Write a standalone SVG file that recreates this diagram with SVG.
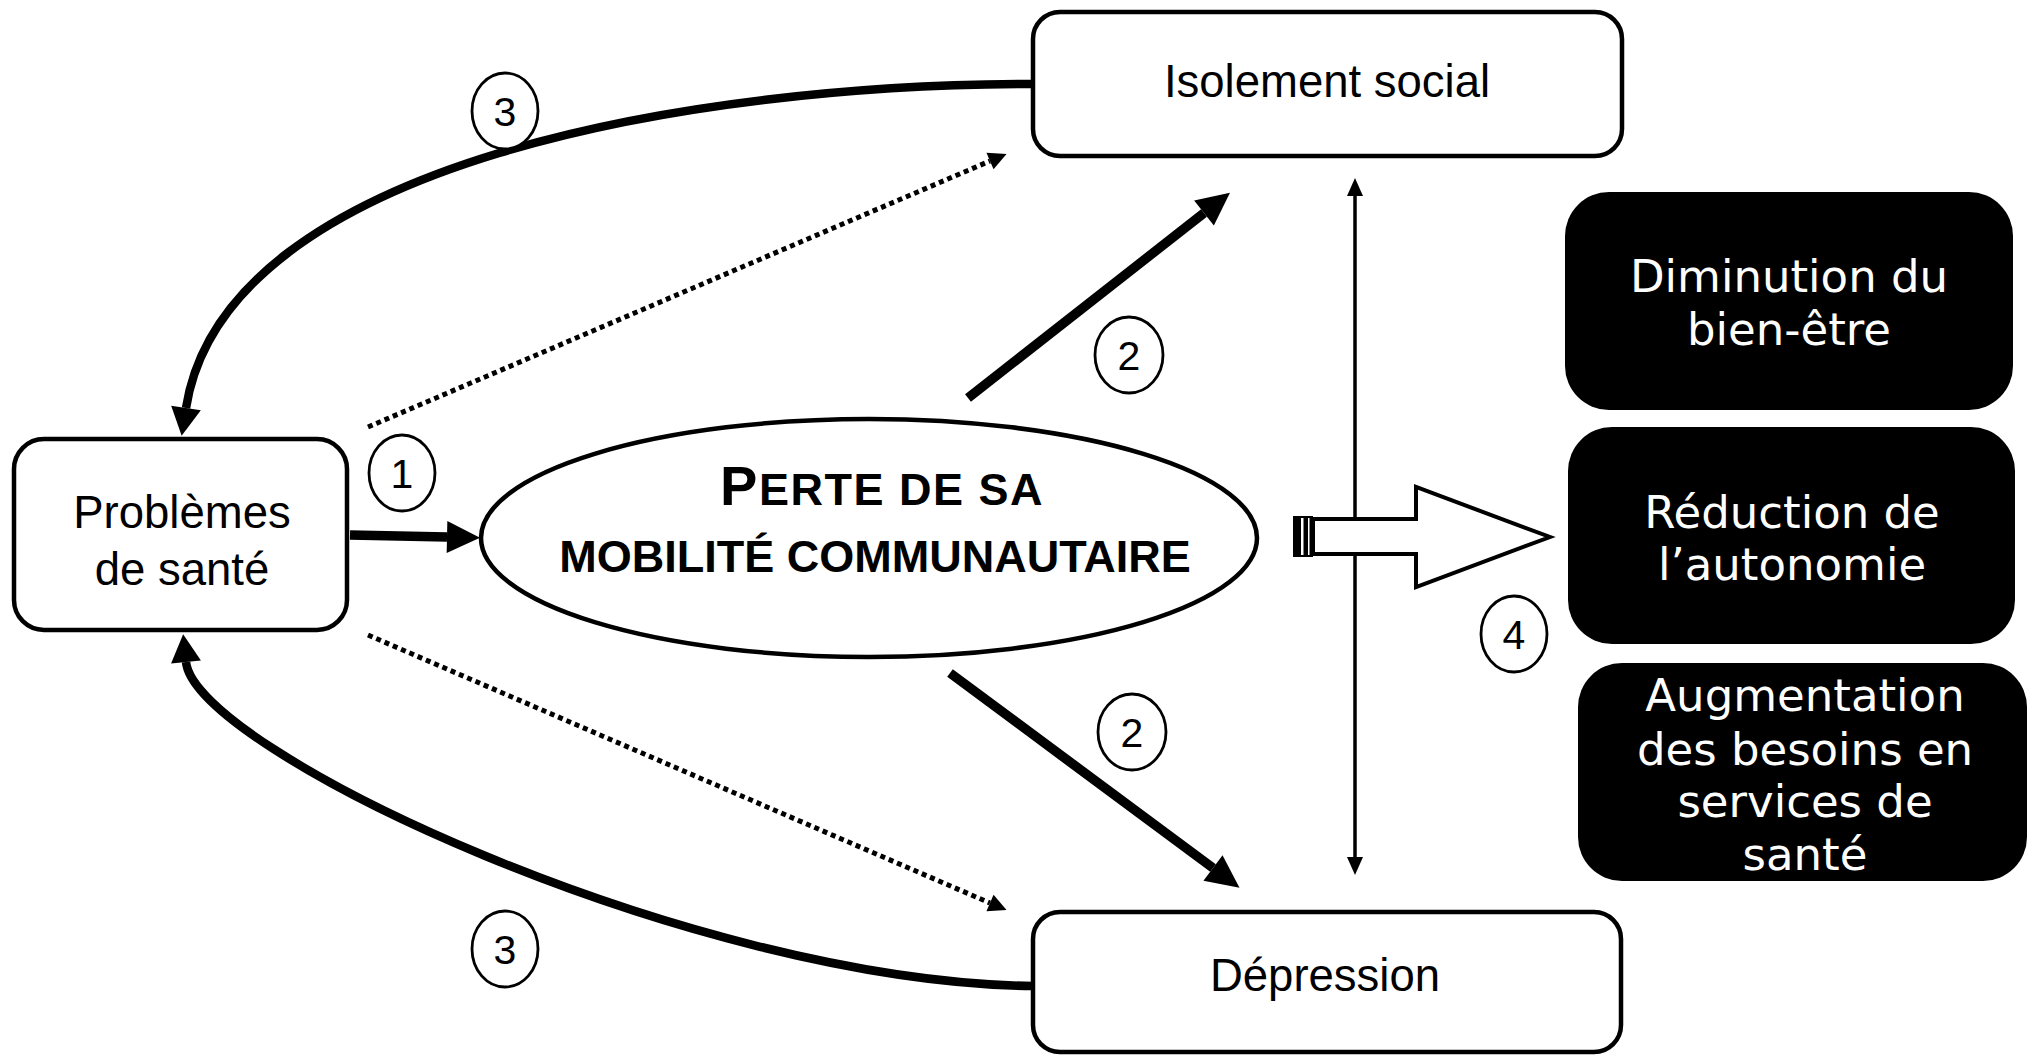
<svg xmlns="http://www.w3.org/2000/svg" width="2033" height="1057" viewBox="0 0 2033 1057">
  <defs>
    <style>
      .box{fill:#fff;stroke:#000;stroke-width:4.5}
      .dark{fill:#000}
      .lbl{font-family:"Liberation Sans",Arial,sans-serif;font-size:45.5px;fill:#000;text-anchor:middle}
      .wt{font-family:"DejaVu Sans",Verdana,sans-serif;font-size:45px;fill:#fff;text-anchor:middle}
      .core{font-family:"Liberation Sans",Arial,sans-serif;font-weight:bold;fill:#000;text-anchor:middle}
      .ring{fill:#fff;stroke:#000;stroke-width:2.8}
      .num{font-family:"Liberation Sans",Arial,sans-serif;font-size:41px;fill:#000;text-anchor:middle}
      .thick{fill:none;stroke:#000;stroke-width:9.5}
      .curve{fill:none;stroke:#000;stroke-width:8.5}
      .dot{fill:none;stroke:#000;stroke-width:5;stroke-dasharray:5 4}
      .thin{fill:none;stroke:#000;stroke-width:3.5}
    </style>
    <marker id="head-big" markerUnits="userSpaceOnUse" orient="auto" refX="0" refY="0" markerWidth="40" markerHeight="40" overflow="visible">
      <path d="M0,-16 L33,0 L0,16 Z" fill="#000"/>
    </marker>
    <marker id="head-curve" markerUnits="userSpaceOnUse" orient="auto" refX="0" refY="0" markerWidth="40" markerHeight="40" overflow="visible">
      <path d="M0,-15 L28,0 L0,15 Z" fill="#000"/>
    </marker>
    <marker id="head-dot" markerUnits="userSpaceOnUse" orient="auto" refX="0" refY="0" markerWidth="30" markerHeight="30" overflow="visible">
      <path d="M0,-9 L18,0 L0,9 Z" fill="#000"/>
    </marker>
    <marker id="head-thin" markerUnits="userSpaceOnUse" orient="auto-start-reverse" refX="0" refY="0" markerWidth="30" markerHeight="30" overflow="visible">
      <path d="M0,-8 L18,0 L0,8 Z" fill="#000"/>
    </marker>
  </defs>

  <rect width="2033" height="1057" fill="#fff"/>

  <!-- connectors -->
  <g id="connectors">
    <!-- 1: health problems -> loss of mobility -->
    <path class="thick" d="M350,535 L447,537" marker-end="url(#head-big)"/>
    <!-- 2: loss of mobility -> isolation / depression -->
    <path class="thick" d="M968,398 L1204,213" marker-end="url(#head-big)"/>
    <path class="thick" d="M950,673 L1213,868" marker-end="url(#head-big)"/>
    <!-- 3: feedback curves back to health problems -->
    <path class="curve" d="M1033,84 C700,84 225,160 186,408" marker-end="url(#head-curve)"/>
    <path class="curve" d="M1033,986 C690,982 195,750 186,662" marker-end="url(#head-curve)"/>
    <!-- dotted direct links -->
    <path class="dot" d="M368,427 L990,161" marker-end="url(#head-dot)"/>
    <path class="dot" d="M368,635 L990,903" marker-end="url(#head-dot)"/>
    <!-- isolation <-> depression -->
    <path class="thin" d="M1355,196 L1355,857" marker-start="url(#head-thin)" marker-end="url(#head-thin)"/>
    <!-- 4: block arrow toward consequences -->
    <g id="block-arrow">
      <polygon points="1313,519 1416,519 1416,487 1550,537 1416,587 1416,554 1313,554" fill="#fff" stroke="#000" stroke-width="4" stroke-linejoin="miter"/>
      <rect x="1293" y="516" width="20" height="41" fill="#000"/>
      <rect x="1301" y="518" width="2.5" height="37" fill="#fff"/>
      <rect x="1308" y="518" width="1.5" height="37" fill="#fff"/>
    </g>
  </g>

  <!-- nodes -->
  <g id="node-sante">
    <rect class="box" x="14" y="439" width="333" height="191" rx="30"/>
    <text class="lbl" x="182" y="528">Problèmes</text>
    <text class="lbl" x="182" y="585">de santé</text>
  </g>

  <g id="node-mobilite">
    <ellipse cx="869" cy="538" rx="388" ry="119" fill="#fff" stroke="#000" stroke-width="4.5"/>
    <text class="core" x="882" y="505" letter-spacing="1.5"><tspan font-size="56">P</tspan><tspan font-size="45">ERTE DE SA</tspan></text>
    <text class="core" x="875" y="572" font-size="45">MOBILITÉ COMMUNAUTAIRE</text>
  </g>

  <g id="node-isolement">
    <rect class="box" x="1033" y="12" width="589" height="144" rx="27"/>
    <text class="lbl" x="1327" y="97">Isolement social</text>
  </g>

  <g id="node-depression">
    <rect class="box" x="1033" y="912" width="588" height="140" rx="27"/>
    <text class="lbl" x="1325" y="991">Dépression</text>
  </g>

  <g id="node-bien-etre">
    <rect class="dark" x="1565" y="192" width="448" height="218" rx="44"/>
    <text class="wt" x="1789" y="292">Diminution du</text>
    <text class="wt" x="1789" y="345">bien-être</text>
  </g>

  <g id="node-autonomie">
    <rect class="dark" x="1568" y="427" width="447" height="217" rx="44"/>
    <text class="wt" x="1792" y="528">Réduction de</text>
    <text class="wt" x="1792" y="580">l’autonomie</text>
  </g>

  <g id="node-services">
    <rect class="dark" x="1578" y="663" width="449" height="218" rx="44"/>
    <text class="wt" x="1805" y="711">Augmentation</text>
    <text class="wt" x="1805" y="765">des besoins en</text>
    <text class="wt" x="1805" y="817">services de</text>
    <text class="wt" x="1805" y="870">santé</text>
  </g>

  <!-- numbered step labels -->
  <g id="labels">
    <g id="label-1"><ellipse class="ring" cx="402" cy="473" rx="33" ry="38"/><text class="num" x="402" y="488">1</text></g>
    <g id="label-2a"><ellipse class="ring" cx="1129" cy="355" rx="34" ry="38"/><text class="num" x="1129" y="370">2</text></g>
    <g id="label-2b"><ellipse class="ring" cx="1132" cy="732" rx="34" ry="38"/><text class="num" x="1132" y="747">2</text></g>
    <g id="label-3a"><ellipse class="ring" cx="505" cy="111" rx="33" ry="38"/><text class="num" x="505" y="126">3</text></g>
    <g id="label-3b"><ellipse class="ring" cx="505" cy="949" rx="33" ry="38"/><text class="num" x="505" y="964">3</text></g>
    <g id="label-4"><ellipse class="ring" cx="1514" cy="634" rx="33" ry="38"/><text class="num" x="1514" y="649">4</text></g>
  </g>
</svg>
